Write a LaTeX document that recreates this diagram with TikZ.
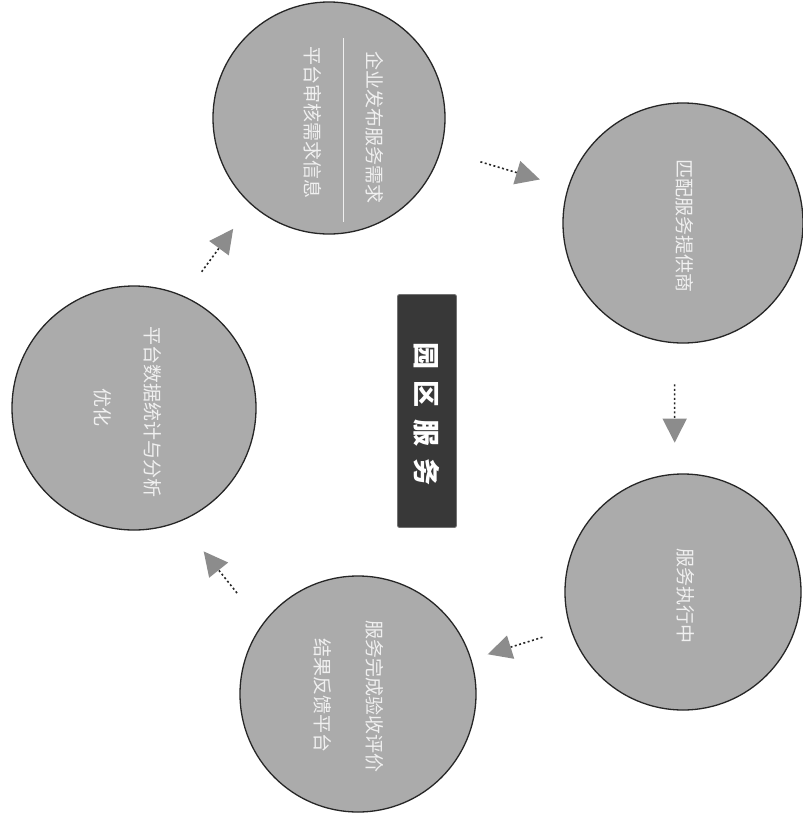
\documentclass[tikz,border=0pt]{standalone}
\usepackage{fontspec}
\newfontfamily\cjk{Noto Sans CJK SC}
\usetikzlibrary{arrows.meta}
\begin{document}
\begin{tikzpicture}[x=1pt,y=-1pt,
  stage/.style={circle,draw=black!85,line width=1.3pt,fill=black!33,inner sep=0pt},
  vtext/.style={rotate=-90,text=white!94!black,font=\cjk\fontsize{19}{22}\selectfont,inner sep=0pt},
  flow/.style={draw=black!85,line width=1.6pt,dash pattern=on 2pt off 2.5pt,
    -{Triangle[length=24pt,width=24pt,color=black!45]}},
  hub/.style={rectangle,rounded corners=2pt,fill=black!78,draw=black!55,line width=0.8pt,
    minimum width=59pt,minimum height=233pt,inner sep=0pt}]
\useasboundingbox (0,0) rectangle (803,820);
\fill[white] (0,0) rectangle (803,820);

% stages
\node[stage,minimum size=232pt] (top) at (329,118) {};
\node[stage,minimum size=240pt] (rtop) at (683,223) {};
\node[stage,minimum size=236pt] (brc) at (683,592) {};
\node[stage,minimum size=236pt] (bot) at (358,694) {};
\node[stage,minimum size=244pt] (lft) at (134,408) {};

% centre label
\node[hub] (hubbox) at (427,411) {};
\node[rotate=-90,text=white,font=\cjk\bfseries\fontsize{27}{30}\selectfont,inner sep=0pt] (hubtext) at (427,414)
  {园\hspace{12pt}区\hspace{12pt}服\hspace{12pt}务};

% texts in the stages
\node[vtext] (t1a) at (375,127) {企业发布服务需求};
\draw[white!94!black,line width=1pt] (343,38) -- (343,222);
\node[vtext] (t1b) at (313,122) {平台审核需求信息};
\node[vtext] (t2) at (685,226) {匹配服务提供商};
\node[vtext] (t3) at (686,596) {服务执行中};
\node[vtext] (t4a) at (375,696) {服务完成验收评价};
\node[vtext] (t4b) at (323,695) {结果反馈平台};
\node[vtext] (t5a) at (153,412) {平台数据统计与分析};
\node[vtext] (t5b) at (103,407) {优化};

% flow arrows
\draw[flow,shorten <=41pt,shorten >=29pt] (top.-16) -- (rtop.163);
\draw[flow,shorten <=41pt,shorten >=31pt] (rtop.-94) -- (brc.94);
\draw[flow,shorten <=29pt,shorten >=17pt] (brc.198) -- (bot.17);
\draw[flow,shorten <=40pt,shorten >=38pt] (bot.144) -- (lft.-68);
\draw[flow,shorten <=30pt,shorten >=30pt] (lft.66) -- (top.228);
\end{tikzpicture}
\end{document}
